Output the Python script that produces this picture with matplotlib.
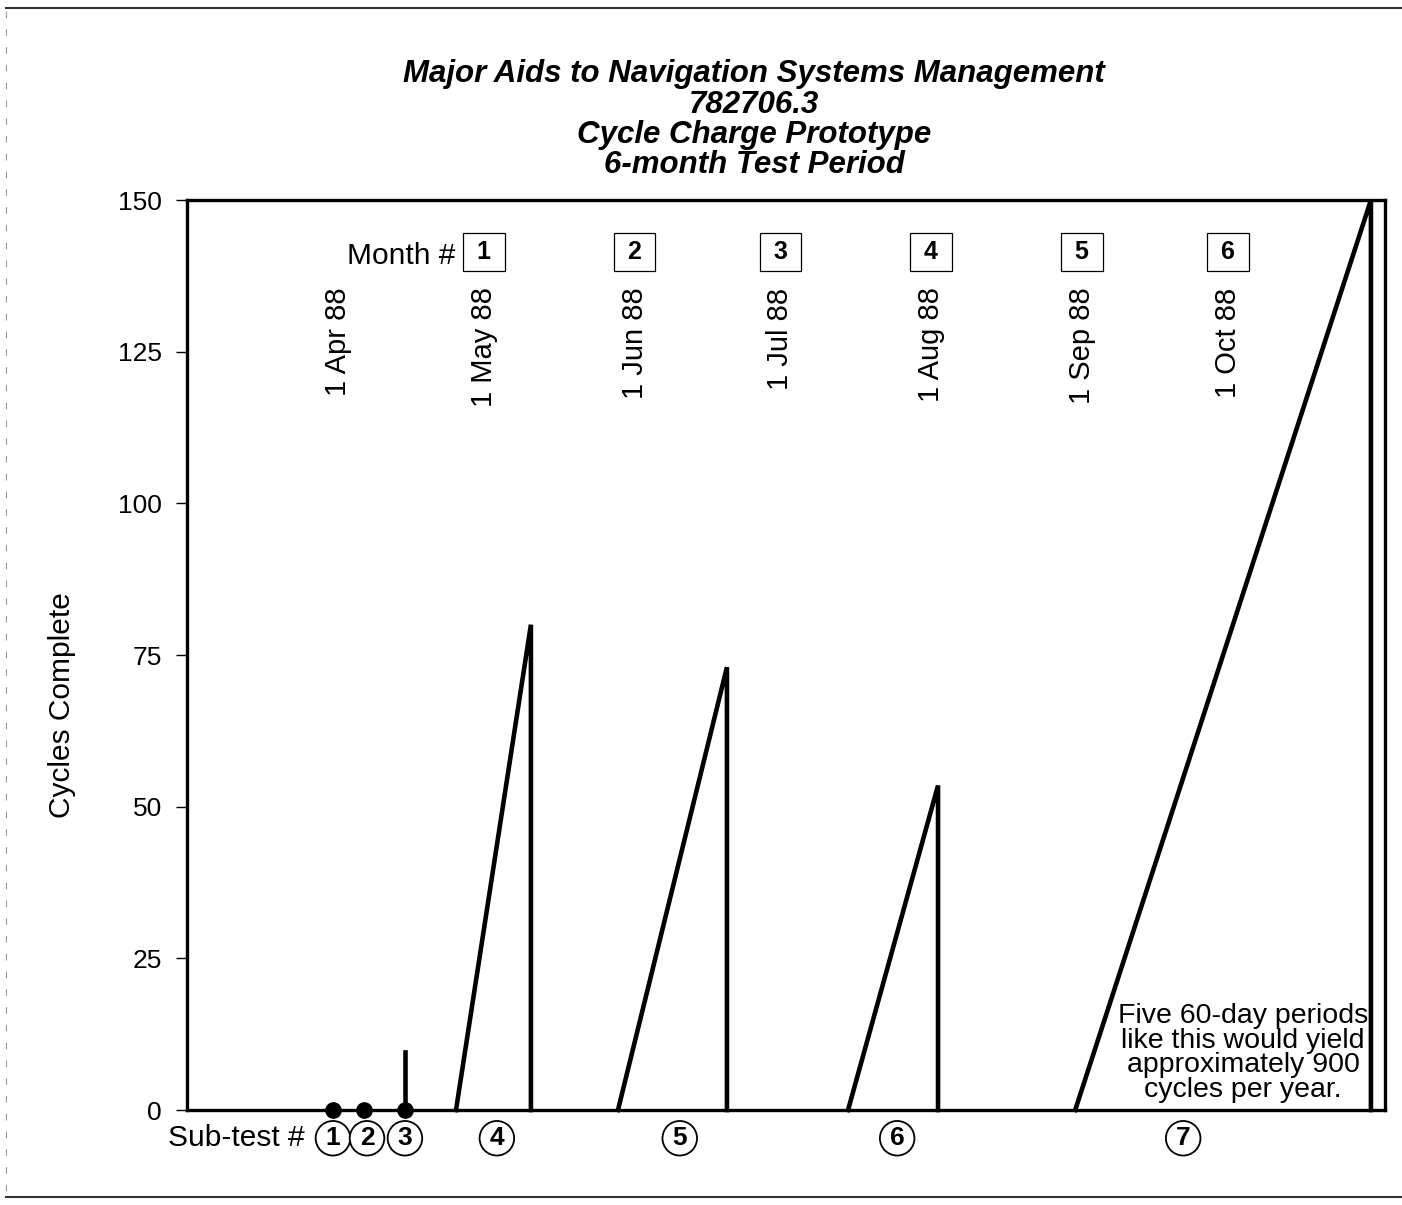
import matplotlib.pyplot as plt
from matplotlib.lines import Line2D

# days counted from 1 Apr 88
dot_days = [-1.0, 5.3, 13.8]
spike_day = 13.8
spike_val = 9.5
ramp_start = [24.3, 57.6, 104.9, 151.6]
ramp_end = [39.7, 80.0, 123.4, 212.4]
ramp_peak = [80, 73, 53.5, 150]

month_days = [30, 61, 91, 122, 153, 183]
month_nums = ["1", "2", "3", "4", "5", "6"]
date_days = [0, 30, 61, 91, 122, 153, 183]
date_labels = ["1 Apr 88", "1 May 88", "1 Jun 88", "1 Jul 88",
               "1 Aug 88", "1 Sep 88", "1 Oct 88"]
subtest_days = [-1.0, 6.0, 13.8, 32.7, 70.3, 115.0, 173.8]
subtest_nums = ["1", "2", "3", "4", "5", "6", "7"]
yticks = [0, 25, 50, 75, 100, 125, 150]

plt.rcParams['font.family'] = ['Liberation Sans', 'DejaVu Sans']

fig = plt.figure(figsize=(14.02, 12.05), dpi=100)
ax = fig.add_axes([0.1334, 0.0788, 0.8545, 0.7552])

lw = 3.3
# sub-tests 1-3
ax.plot(dot_days, [0] * len(dot_days), 'o', color='black', ms=11, clip_on=False, zorder=5)
ax.plot([spike_day, spike_day], [0, spike_val], color='black', lw=lw)
# ramps 4-7
for s, e, p in zip(ramp_start, ramp_end, ramp_peak):
    ax.plot([s, e, e], [0, p, 0], color='black', lw=lw, solid_joinstyle='miter', clip_on=False)

ax.set_xlim(-31, 215.3)
ax.set_ylim(0, 150)
ax.set_xticks([])
ax.set_yticks(yticks)
ax.set_yticklabels([str(v) for v in yticks], fontsize=19)
ax.tick_params(axis='y', direction='out', length=8, width=1, pad=10)
for sp in ax.spines.values():
    sp.set_linewidth(2.4)

ax.text(-0.104, 0.445, "Cycles Complete", transform=ax.transAxes, rotation=90,
        ha='center', va='center', fontsize=21.5)

# month boxes
trans = ax.get_xaxis_transform()
ax.text(0.2237, 0.939, "Month #", transform=ax.transAxes, ha='right', va='center', fontsize=21.5)
for d, m in zip(month_days, month_nums):
    ax.text(d, 0.943, " " + m + " ", transform=trans, ha='center', va='center',
            fontsize=18, fontweight='bold',
            bbox=dict(boxstyle='square,pad=0.28', fc='white', ec='black', lw=0.9))
for d, lab in zip(date_days, date_labels):
    ax.text(d, 0.904, lab, transform=trans, rotation=90, ha='center', va='top', fontsize=21)

# sub-test markers
ax.text(0.0985, -0.031, "Sub-test #", transform=ax.transAxes, ha='right', va='center', fontsize=21.5)
for d, n in zip(subtest_days, subtest_nums):
    ax.text(d, -0.031, n, transform=trans, ha='center', va='center', fontsize=19,
            fontweight='bold',
            bbox=dict(boxstyle='circle,pad=0.2', fc='white', ec='black', lw=1.3))

ax.text(0.8815, 0.0626,
        "Five 60-day periods\nlike this would yield\napproximately 900\ncycles per year.",
        transform=ax.transAxes, ha='center', va='center', fontsize=20.5, linespacing=0.92)

fig.text(0.538, 0.951,
         "Major Aids to Navigation Systems Management\n782706.3\nCycle Charge Prototype\n6-month Test Period",
         ha='center', va='top', fontsize=22.5, fontweight='bold', fontstyle='italic',
         linespacing=1.02)

# scanned page border
fig.add_artist(Line2D([0.004, 1.0], [0.993, 0.993], color='#333333', lw=1.5))
fig.add_artist(Line2D([0.004, 1.0], [0.0066, 0.0066], color='#333333', lw=1.5))
fig.add_artist(Line2D([0.004, 0.004], [0.012, 0.993], color='#999999', lw=0.8, ls=(0, (6, 10))))

fig.savefig("out.png", dpi=100)
